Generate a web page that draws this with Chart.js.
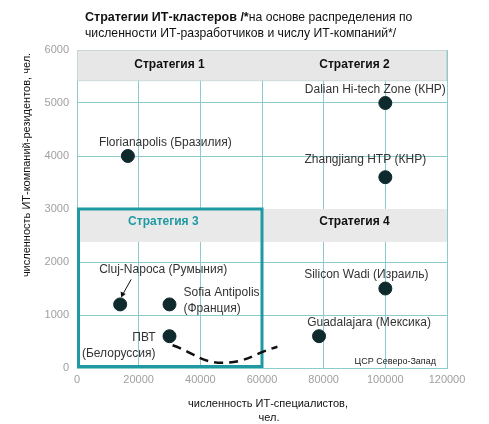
<!DOCTYPE html>
<html>
<head>
<meta charset="utf-8">
<script src="https://cdn.jsdelivr.net/npm/chart.js@4/dist/chart.umd.min.js"></script>
<style>
  html, body { margin: 0; padding: 0; background: #fff; }
  #wrap { width: 489px; height: 424px; position: relative; }
</style>
</head>
<body>
<div id="wrap"><canvas id="c" width="489" height="424"></canvas></div>
<script>
const clusterNames = ['Florianapolis (Бразилия)', 'Dalian Hi-tech Zone (КНР)', 'Zhangjiang HTP (КНР)', 'Cluj-Napoca (Румыния)', 'Sofia Antipolis|(Франция)', 'ПВТ|(Белоруссия)', 'Silicon Wadi (Израиль)', 'Guadalajara (Мексика)']
const itSpecialists = [16500, 100000, 100000, 14000, 30000, 30000, 100000, 78500]
const itCompanies = [4000, 5000, 3600, 1200, 1200, 600, 1500, 600]
const xTicks = [0, 20000, 40000, 60000, 80000, 100000, 120000]
const yTicks = [0, 1000, 2000, 3000, 4000, 5000, 6000]
const trendX = [31000, 47000, 65000]
const trendY = [430, 100, 400]
const strategyNames = ['Стратегия 1', 'Стратегия 2', 'Стратегия 3', 'Стратегия 4']

const FONT = '"Liberation Sans", Arial, sans-serif'
const TEAL = '#1f9aa2'
const GRID = '#8ccacc'

// where each point label sits, px offset from the point
const labelPos = [
  { dx: -29, dy: -13, align: 'left' },
  { dx: -10, dy: -13, align: 'center' },
  { dx: -20, dy: -18, align: 'center' },
  { dx: 43, dy: -35, align: 'center' },
  { dx: 14, dy: -12, align: 'left' },
  { dx: -14, dy: 1, align: 'right' },
  { dx: -19, dy: -14, align: 'center' },
  { dx: 50, dy: -14, align: 'center' },
]

const decor = {
  id: 'decor',
  beforeDatasetsDraw(chart) {
    const { ctx, scales: { x, y } } = chart
    ctx.save()
    // top band (strategy 1/2)
    ctx.fillStyle = '#e7e7e7'
    ctx.fillRect(x.getPixelForValue(0), y.getPixelForValue(6000), x.getPixelForValue(120000) - x.getPixelForValue(0), y.getPixelForValue(5430) - y.getPixelForValue(6000))
    ctx.strokeStyle = '#c9d6d6'; ctx.lineWidth = 1
    ctx.strokeRect(x.getPixelForValue(0) + 0.5, y.getPixelForValue(6000) + 0.5, x.getPixelForValue(120000) - x.getPixelForValue(0) - 1, y.getPixelForValue(5430) - y.getPixelForValue(6000))
    // middle band (strategy 3/4)
    ctx.fillStyle = '#e9e9e9'
    ctx.fillRect(x.getPixelForValue(0), y.getPixelForValue(3000), x.getPixelForValue(120000) - x.getPixelForValue(0), y.getPixelForValue(2380) - y.getPixelForValue(3000))
    ctx.font = 'bold 12px ' + FONT
    ctx.textAlign = 'center'; ctx.textBaseline = 'middle'
    ctx.fillStyle = '#111'
    ctx.fillText(strategyNames[0], x.getPixelForValue(30000), y.getPixelForValue(5720))
    ctx.fillText(strategyNames[1], x.getPixelForValue(90000), y.getPixelForValue(5720))
    ctx.fillText(strategyNames[3], x.getPixelForValue(90000), y.getPixelForValue(2760))
    ctx.fillStyle = TEAL
    ctx.fillText(strategyNames[2], x.getPixelForValue(28000), y.getPixelForValue(2760))
    // strategy 3 box
    ctx.strokeStyle = TEAL; ctx.lineWidth = 3
    const bx = x.getPixelForValue(0) + 1.5, by = y.getPixelForValue(3000)
    ctx.strokeRect(bx, by, x.getPixelForValue(60000) - bx, y.getPixelForValue(0) - by - 1.5)
    ctx.restore()
  },
  afterDatasetsDraw(chart) {
    const { ctx, scales: { x, y } } = chart
    ctx.save()
    ctx.font = '12px ' + FONT
    ctx.fillStyle = '#333'; ctx.textBaseline = 'middle'
    clusterNames.forEach((name, i) => {
      const px = x.getPixelForValue(itSpecialists[i]), py = y.getPixelForValue(itCompanies[i])
      const p = labelPos[i]
      ctx.textAlign = p.align
      name.split('|').forEach((line, j) => ctx.fillText(line, px + p.dx, py + p.dy + j * 16.5))
    })
    // arrow to Cluj-Napoca
    const cx = x.getPixelForValue(itSpecialists[3]), cy = y.getPixelForValue(itCompanies[3])
    ctx.strokeStyle = '#111'; ctx.fillStyle = '#111'; ctx.lineWidth = 1
    ctx.beginPath(); ctx.moveTo(cx + 11, cy - 25); ctx.lineTo(cx + 2, cy - 9); ctx.stroke()
    ctx.beginPath(); ctx.moveTo(cx + 1, cy - 7); ctx.lineTo(cx + 0.5, cy - 13); ctx.lineTo(cx + 5.5, cy - 10.5); ctx.closePath(); ctx.fill()
    ctx.font = '9px ' + FONT; ctx.fillStyle = '#222'; ctx.textAlign = 'right'
    ctx.fillText('ЦСР Северо-Запад', x.getPixelForValue(120000) - 11, y.getPixelForValue(0) - 6)
    ctx.restore()
  },
  afterDraw(chart) {
    const { ctx } = chart
    ctx.save()
    ctx.fillStyle = '#111'; ctx.textBaseline = 'middle'; ctx.textAlign = 'left'
    ctx.font = 'bold 12.5px ' + FONT
    const t1 = 'Стратегии ИТ-кластеров /*'
    ctx.fillText(t1, 85, 18)
    const w = ctx.measureText(t1).width
    ctx.font = '12.2px ' + FONT
    ctx.fillText('на основе распределения по', 85 + w, 18)
    ctx.fillText('численности ИТ-разработчиков и числу ИТ-компаний*/', 85, 34)
    ctx.font = '11px ' + FONT
    ctx.textAlign = 'center'
    ctx.fillText('численность ИТ-специалистов,', 268, 404)
    ctx.fillText('чел.', 269, 418)
    ctx.translate(27, 165); ctx.rotate(-Math.PI / 2)
    ctx.fillText('численность ИТ-компаний-резидентов, чел.', 0, 0)
    ctx.restore()
  }
}

new Chart(document.getElementById('c'), {
  type: 'scatter',
  data: {
    datasets: [
      {
        data: itSpecialists.map((v, i) => ({ x: v, y: itCompanies[i] })),
        backgroundColor: '#0f2a2d', borderColor: '#0f2a2d', pointRadius: 6.5, pointHoverRadius: 6.5,
      },
      {
        type: 'line',
        data: trendX.map((v, i) => ({ x: v, y: trendY[i] })),
        borderColor: '#111', borderWidth: 2.5, borderDash: [9, 6], tension: 0.45, pointRadius: 0, fill: false,
      },
    ],
  },
  options: {
    responsive: false, animation: false,
    layout: { padding: { left: 0, top: 50, right: 42, bottom: 0 } },
    plugins: { legend: { display: false }, tooltip: { enabled: false } },
    scales: {
      x: {
        type: 'linear', min: 0, max: 120000,
        afterBuildTicks: s => { s.ticks = xTicks.map(v => ({ value: v })) },
        afterFit: s => { s.height = 56 },
        grid: { color: GRID, drawTicks: false },
        border: { color: GRID },
        ticks: { color: '#a0a0a0', font: { size: 11, family: FONT }, padding: 5, maxRotation: 0, callback: v => String(v) },
      },
      y: {
        type: 'linear', min: 0, max: 6000,
        afterBuildTicks: s => { s.ticks = yTicks.map(v => ({ value: v })) },
        afterFit: s => { s.width = 77 },
        grid: { color: GRID, drawTicks: false },
        border: { color: GRID },
        ticks: { color: '#a0a0a0', font: { size: 11, family: FONT }, padding: 8, callback: v => String(v) },
      },
    },
  },
  plugins: [decor],
})
</script>
</body>
</html>
